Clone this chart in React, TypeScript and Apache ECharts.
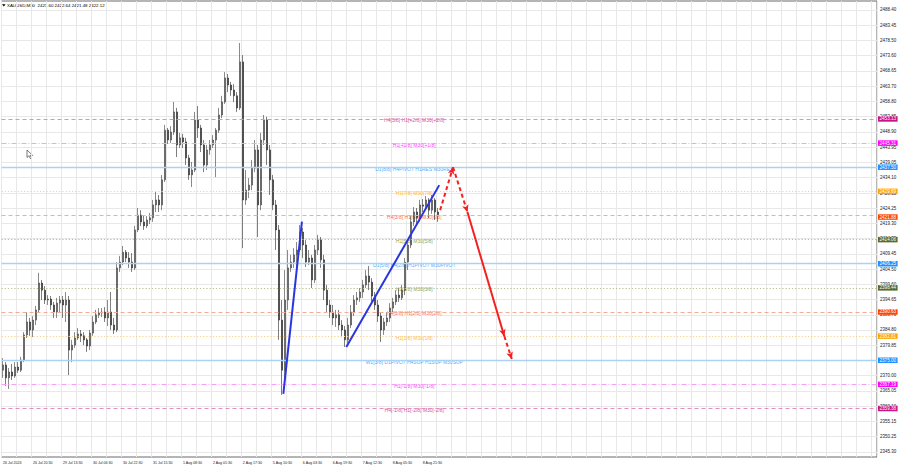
import React, { useEffect, useRef } from 'react';
import * as echarts from 'echarts';

const headerText = 'XAUUSD,M30  2421.60 2422.64 2421.48 2422.12';

const xTickLabels = [
  '26 Jul 2024', '26 Jul 20:30', '29 Jul 13:30', '30 Jul 06:30', '30 Jul 22:30',
  '31 Jul 15:30', '1 Aug 08:30', '2 Aug 01:30', '2 Aug 17:30', '5 Aug 10:30',
  '6 Aug 03:30', '6 Aug 19:30', '7 Aug 12:30', '8 Aug 05:30', '8 Aug 21:30',
];

const yTickValues = [
  2345.30, 2350.25, 2355.15, 2360.10, 2365.05, 2370.00, 2374.90, 2379.85, 2384.80, 2389.70,
  2394.65, 2399.60, 2404.50, 2409.45, 2414.35, 2419.30, 2424.25, 2429.15, 2434.10, 2439.05,
  2443.95, 2448.90, 2453.85, 2458.80, 2463.70, 2468.65, 2473.60, 2478.50, 2483.45, 2488.40,
];

const opens = [
  2371.8, 2373.5, 2369.3, 2371.2, 2369.9, 2372.8, 2371.8, 2375.1, 2383.2, 2387.4,
  2384.8, 2388.0, 2391.3, 2400.0, 2397.7, 2394.5, 2394.8, 2392.9, 2390.6, 2393.5,
  2394.5, 2392.9, 2394.5, 2378.3, 2379.9, 2382.2, 2383.5, 2382.9, 2381.6, 2379.6,
  2383.8, 2387.4, 2389.7, 2390.3, 2390.6, 2388.7, 2390.6, 2386.4, 2384.8, 2404.9,
  2406.8, 2410.0, 2408.1, 2406.8, 2404.9, 2417.2, 2422.0, 2419.8, 2418.5, 2420.4,
  2421.1, 2425.3, 2426.9, 2425.3, 2433.4, 2449.5, 2446.3, 2448.9, 2455.4, 2444.7,
  2447.0, 2445.7, 2440.5, 2435.0, 2436.6, 2452.8, 2450.2, 2444.7, 2438.2, 2443.1,
  2444.7, 2446.3, 2449.5, 2454.4, 2458.6, 2466.4, 2464.1, 2462.5, 2460.6, 2456.7,
  2471.6, 2426.9, 2430.1, 2431.7, 2437.2, 2443.1, 2425.3, 2446.3, 2452.8, 2443.1,
  2433.4, 2425.3, 2417.2, 2388.0, 2371.8, 2394.5, 2404.9, 2406.8, 2409.1, 2410.7,
  2416.5, 2412.3, 2406.8, 2408.1, 2401.0, 2410.7, 2413.9, 2407.5, 2397.7, 2392.9,
  2390.6, 2388.7, 2389.7, 2386.4, 2384.8, 2381.6, 2386.4, 2390.6, 2394.5, 2395.2,
  2397.1, 2399.4, 2402.3, 2400.3, 2395.8, 2392.9, 2389.3, 2384.8, 2387.4, 2388.7,
  2391.9, 2393.9, 2396.1, 2395.2, 2397.7, 2406.8, 2412.3, 2419.8, 2423.0, 2421.1,
  2425.3, 2424.9, 2426.9, 2423.6, 2426.9, 2423.0,
];

const closes = [
  2373.5, 2369.3, 2371.2, 2369.9, 2372.8, 2371.8, 2375.1, 2383.2, 2387.4, 2384.8,
  2388.0, 2391.3, 2400.0, 2397.7, 2394.5, 2394.8, 2392.9, 2390.6, 2393.5, 2394.5,
  2392.9, 2394.5, 2378.3, 2379.9, 2382.2, 2383.5, 2382.9, 2381.6, 2379.6, 2383.8,
  2387.4, 2389.7, 2390.3, 2390.6, 2388.7, 2390.6, 2386.4, 2384.8, 2404.9, 2406.8,
  2410.0, 2408.1, 2406.8, 2404.9, 2417.2, 2422.0, 2419.8, 2418.5, 2420.4, 2421.1,
  2425.3, 2426.9, 2425.3, 2433.4, 2449.5, 2446.3, 2448.9, 2455.4, 2444.7, 2447.0,
  2445.7, 2440.5, 2435.0, 2436.6, 2452.8, 2450.2, 2444.7, 2438.2, 2443.1, 2444.7,
  2446.3, 2449.5, 2454.4, 2458.6, 2466.4, 2464.1, 2462.5, 2460.6, 2456.7, 2471.6,
  2426.9, 2430.1, 2431.7, 2437.2, 2443.1, 2425.3, 2446.3, 2452.8, 2443.1, 2433.4,
  2425.3, 2417.2, 2388.0, 2371.8, 2394.5, 2404.9, 2406.8, 2409.1, 2410.7, 2416.5,
  2412.3, 2406.8, 2408.1, 2401.0, 2410.7, 2413.9, 2407.5, 2397.7, 2392.9, 2390.6,
  2388.7, 2389.7, 2386.4, 2384.8, 2381.6, 2386.4, 2390.6, 2394.5, 2395.2, 2397.1,
  2399.4, 2402.3, 2400.3, 2395.8, 2392.9, 2389.3, 2384.8, 2387.4, 2388.7, 2391.9,
  2393.9, 2396.1, 2395.2, 2397.7, 2406.8, 2412.3, 2419.8, 2423.0, 2421.1, 2425.3,
  2424.9, 2426.9, 2423.6, 2426.9, 2423.0, 2422.12,
];

const lows = [
  2369.3, 2366.7, 2365.7, 2368.6, 2369.3, 2370.9, 2371.2, 2374.4, 2382.2, 2382.9,
  2382.5, 2386.4, 2390.6, 2394.5, 2393.2, 2392.9, 2391.3, 2388.7, 2388.7, 2390.6,
  2388.7, 2387.4, 2370.2, 2374.4, 2379.0, 2381.6, 2380.9, 2379.9, 2377.7, 2378.3,
  2382.9, 2386.7, 2388.7, 2389.0, 2387.4, 2386.1, 2384.8, 2383.5, 2384.1, 2403.6,
  2405.8, 2406.8, 2404.9, 2403.6, 2404.2, 2416.5, 2418.5, 2417.2, 2417.8, 2419.1,
  2419.8, 2423.0, 2423.0, 2423.6, 2432.7, 2445.0, 2445.3, 2447.9, 2440.8, 2443.7,
  2443.7, 2438.2, 2433.4, 2431.1, 2435.9, 2447.0, 2442.4, 2435.9, 2436.6, 2441.5,
  2443.7, 2434.3, 2448.6, 2453.4, 2458.0, 2461.8, 2460.6, 2458.6, 2455.4, 2456.0,
  2411.3, 2425.3, 2427.5, 2430.1, 2435.9, 2414.9, 2423.6, 2444.7, 2438.2, 2428.5,
  2423.6, 2410.7, 2381.6, 2363.8, 2369.3, 2391.3, 2403.6, 2404.9, 2404.9, 2410.0,
  2408.1, 2405.2, 2405.8, 2398.4, 2400.0, 2409.1, 2404.9, 2394.5, 2390.6, 2388.7,
  2386.4, 2385.8, 2384.8, 2382.5, 2379.3, 2380.6, 2385.4, 2389.3, 2392.9, 2393.9,
  2395.2, 2398.4, 2397.7, 2393.9, 2391.3, 2387.4, 2380.9, 2383.2, 2386.1, 2387.4,
  2390.6, 2392.9, 2393.9, 2394.5, 2396.1, 2404.2, 2411.3, 2418.5, 2418.8, 2419.8,
  2423.0, 2423.6, 2421.1, 2422.4, 2420.4, 2419.8,
];

const highs = [
  2375.7, 2374.4, 2372.5, 2373.8, 2374.4, 2374.4, 2376.1, 2384.1, 2390.6, 2388.7,
  2389.3, 2392.6, 2403.3, 2401.0, 2399.0, 2396.1, 2395.8, 2393.9, 2395.2, 2395.8,
  2395.8, 2397.1, 2395.8, 2381.6, 2384.1, 2385.4, 2384.8, 2384.1, 2382.2, 2384.8,
  2389.3, 2391.3, 2391.9, 2391.9, 2392.2, 2394.5, 2397.1, 2388.7, 2406.8, 2408.8,
  2412.0, 2410.7, 2410.0, 2409.7, 2418.5, 2424.3, 2423.6, 2421.7, 2421.7, 2422.7,
  2426.9, 2429.5, 2428.5, 2435.0, 2451.2, 2450.2, 2450.8, 2458.6, 2456.7, 2448.6,
  2448.3, 2447.0, 2441.5, 2439.2, 2455.4, 2457.3, 2451.2, 2446.3, 2444.7, 2446.3,
  2447.9, 2450.2, 2456.7, 2460.6, 2468.3, 2467.7, 2465.1, 2464.4, 2461.8, 2477.7,
  2473.8, 2436.6, 2434.0, 2439.8, 2446.3, 2444.7, 2448.6, 2454.4, 2453.8, 2444.7,
  2435.0, 2426.9, 2418.8, 2394.5, 2404.2, 2410.7, 2409.1, 2411.3, 2413.3, 2418.8,
  2417.8, 2413.9, 2410.7, 2409.1, 2412.3, 2415.6, 2414.9, 2409.1, 2399.4, 2394.5,
  2392.9, 2391.3, 2391.3, 2388.0, 2386.1, 2388.7, 2392.9, 2396.1, 2397.1, 2398.4,
  2401.0, 2404.2, 2405.5, 2401.6, 2397.1, 2394.5, 2390.6, 2388.7, 2390.6, 2393.5,
  2395.2, 2397.7, 2398.4, 2399.4, 2408.1, 2413.9, 2422.0, 2424.6, 2424.3, 2426.9,
  2427.2, 2428.2, 2427.5, 2428.5, 2427.5, 2424.3,
];

const currentPrice = 2422.12;

const levelPrices = [
  2453.13, 2445.31, 2437.50, 2429.69, 2421.88, 2414.06, 2406.25,
  2398.44, 2390.63, 2382.81, 2375.00, 2367.19, 2359.38,
];
const levelNames = [
  'H4[5/8] H1[+2/8] M30[+2/8]',
  'H1[+1/8] M30[+1/8]',
  'D1[8/8] H4PIVOT H1RES M30RES',
  'H1[7/8] M30[7/8]',
  'H4[3/8] H1[6/8] M30[6/8]',
  'H1[5/8] M30[5/8]',
  'D1[5/8] H4[2/8] H1PIVOT M30PIVOT',
  'H1[3/8] M30[3/8]',
  'H4[1/8] H1[2/8] M30[2/8]',
  'H1[1/8] M30[1/8]',
  'W1[3/8] D1PIVOT H4SUP H1SUP M30SUP',
  'H1[-1/8] M30[-1/8]',
  'H4[-1/8] H1[-2/8] M30[-2/8]',
];
const levelKinds = ['vr', 'mg', 'bl', 'or', 'orr', 'ol', 'bl', 'ol', 'orr', 'or', 'bl', 'mg', 'vr'];

// wave lines (bar position, price)
const waveA = [[94.0, 2364.1], [100.2, 2419.9]];
const waveB = [[115.0, 2379.3], [146.0, 2431.7]];
// forecast path (bar position, price)
const forecast = [[146.3, 2423.6], [150.6, 2437.5], [155.4, 2423.0], [167.7, 2382.8], [170.2, 2375.4]];
const forecastDashed = [true, true, false, true];

const TOTAL_BARS = 292;
const LABEL_X = 137.67;

const KIND_STYLE: Record<string, any> = {
  vr: { line: '#e58cc4', type: [4, 3], width: 1, text: '#c71585', box: '#c71585' },
  mg: { line: '#f7a0f7', type: [5, 2, 1, 2], width: 1, text: '#ff00ff', box: '#ff00ff' },
  bl: { line: '#a9d3f6', type: 'solid', width: 1.4, text: '#1e90ff', box: '#1e90ff' },
  or: { line: '#fbd08a', type: [1.2, 2], width: 1, text: '#ffa500', box: '#ffa500' },
  orr: { line: '#f6ab94', type: [4, 3], width: 1, text: '#ff4500', box: '#ff4500' },
  ol: { line: '#b3bf8e', type: [1.2, 2], width: 1, text: '#6b8e23', box: '#556b2f' },
};

const FONT = 'Liberation Sans, Arial, sans-serif';

export default function App() {
  const ref = useRef<HTMLDivElement>(null);

  useEffect(() => {
    if (!ref.current) return;
    const chart = echarts.init(ref.current, null, { renderer: 'svg' });

    const categories = Array.from({ length: TOTAL_BARS }, (_, i) => String(i));
    const candleData = opens.map((o, i) => [o, closes[i], lows[i], highs[i]]);

    const levelLines: any[] = levelPrices.map((p, i) => {
      const s = KIND_STYLE[levelKinds[i]];
      return {
        yAxis: p,
        lineStyle: { color: s.line, type: s.type, width: s.width, opacity: 1 },
        label: {
          show: true,
          position: 'end',
          distance: 1,
          formatter: p.toFixed(2),
          color: '#fff',
          backgroundColor: s.box,
          padding: [0.5, 1.5, 0, 1.5],
          fontSize: 4.6,
          fontFamily: FONT,
          offset: levelKinds[i] === 'orr' && Math.abs(p - currentPrice) < 1 ? [0, 1.6] : [0, 0],
        },
      };
    });
    levelLines.push({
      yAxis: currentPrice,
      lineStyle: { opacity: 0 },
      label: {
        show: true,
        position: 'end',
        distance: 1,
        formatter: currentPrice.toFixed(2),
        color: '#fff',
        backgroundColor: '#000',
        padding: [0.5, 1.5, 0, 1.5],
        fontSize: 4.6,
        fontFamily: FONT,
        offset: [0, -1.2],
      },
    });

    const levelTexts = levelPrices.map((p, i) => ({
      value: [LABEL_X, p],
      label: { color: KIND_STYLE[levelKinds[i]].text },
    }));

    const overlayLines: any[] = [];
    [waveA, waveB].forEach((w) => {
      overlayLines.push([
        { coord: w[0], symbol: 'none' },
        { coord: w[1], symbol: 'none', lineStyle: { color: '#2a35e0', width: 2, type: 'solid' } },
      ]);
    });
    for (let i = 0; i < forecast.length - 1; i++) {
      overlayLines.push([
        { coord: forecast[i], symbol: 'none' },
        {
          coord: forecast[i + 1],
          symbol: 'arrow',
          symbolSize: [5, 7],
          lineStyle: { color: '#f42020', width: 2, type: forecastDashed[i] ? [4, 3] : 'solid' },
          itemStyle: { color: '#f42020' },
        },
      ]);
    }

    const option: any = {
      animation: false,
      backgroundColor: '#ffffff',
      grid: {
        left: 1, right: 23, top: 1, bottom: 11,
        show: true, borderColor: '#6a6a6a', borderWidth: 1, backgroundColor: 'transparent',
      },
      graphic: [
        {
          type: 'polygon',
          shape: { points: [[2, 4.2], [5.6, 4.2], [3.8, 6.6]] },
          style: { fill: '#000' },
        },
        {
          type: 'text',
          left: 7,
          top: 3.2,
          style: { text: headerText, fontSize: 4.4, fill: '#000', fontFamily: FONT },
        },
        {
          type: 'polygon',
          shape: { points: [[27, 150], [27, 157.5], [28.8, 155.8], [30.4, 158.6], [31.6, 158], [30.1, 155.3], [32.6, 155.3]] },
          style: { fill: '#fff', stroke: '#222', lineWidth: 0.6 },
        },
      ],
      xAxis: [
        {
          type: 'category',
          data: categories,
          boundaryGap: true,
          axisLine: { show: false },
          axisTick: { show: false },
          axisLabel: {
            interval: 9,
            formatter: (_v: string, idx: number) => xTickLabels[idx / 10] ?? '',
            align: 'left',
            fontSize: 3.6,
            margin: 4,
            color: '#222',
            fontFamily: FONT,
          },
          splitLine: { show: true, interval: 4, lineStyle: { color: '#e8e8e8', width: 1 } },
        },
        {
          type: 'value',
          min: 0,
          max: TOTAL_BARS,
          show: false,
        },
      ],
      yAxis: {
        type: 'value',
        position: 'right',
        min: 2343.68,
        max: 2491.31,
        scale: true,
        axisLine: { show: false },
        axisTick: { show: false, customValues: yTickValues },
        axisLabel: {
          customValues: yTickValues,
          formatter: (v: number) => v.toFixed(2),
          fontSize: 4.5,
          margin: 3,
          color: '#222',
          fontFamily: FONT,
        },
        splitLine: { show: true, lineStyle: { color: '#e8e8e8', width: 1 } },
      },
      series: [
        {
          name: 'levels',
          type: 'scatter',
          xAxisIndex: 1,
          yAxisIndex: 0,
          z: 1,
          silent: true,
          symbolSize: 0,
          data: levelTexts,
          label: {
            show: true,
            position: 'inside',
            formatter: (p: any) => levelNames[p.dataIndex],
            fontSize: 5,
            fontFamily: FONT,
            offset: [0, 1.5],
          },
          markLine: {
            silent: true,
            symbol: ['none', 'none'],
            data: levelLines,
          },
        },
        {
          name: 'XAUUSD',
          type: 'candlestick',
          xAxisIndex: 0,
          yAxisIndex: 0,
          z: 3,
          barWidth: 1.4,
          data: candleData,
          itemStyle: {
            color: '#6a6a6a',
            color0: '#262626',
            borderColor: '#3a3a3a',
            borderColor0: '#262626',
            borderWidth: 0.6,
          },
        },
        {
          name: 'overlay',
          type: 'scatter',
          xAxisIndex: 1,
          yAxisIndex: 0,
          z: 5,
          silent: true,
          symbolSize: 0,
          data: [[0, 2400]],
          markLine: {
            silent: true,
            label: { show: false },
            data: overlayLines,
          },
        },
      ],
    };

    chart.setOption(option);
    return () => chart.dispose();
  }, []);

  return (
    <div
      ref={ref}
      style={{ position: 'absolute', left: 0, top: 0, width: 900, height: 468, background: '#fff' }}
    />
  );
}
